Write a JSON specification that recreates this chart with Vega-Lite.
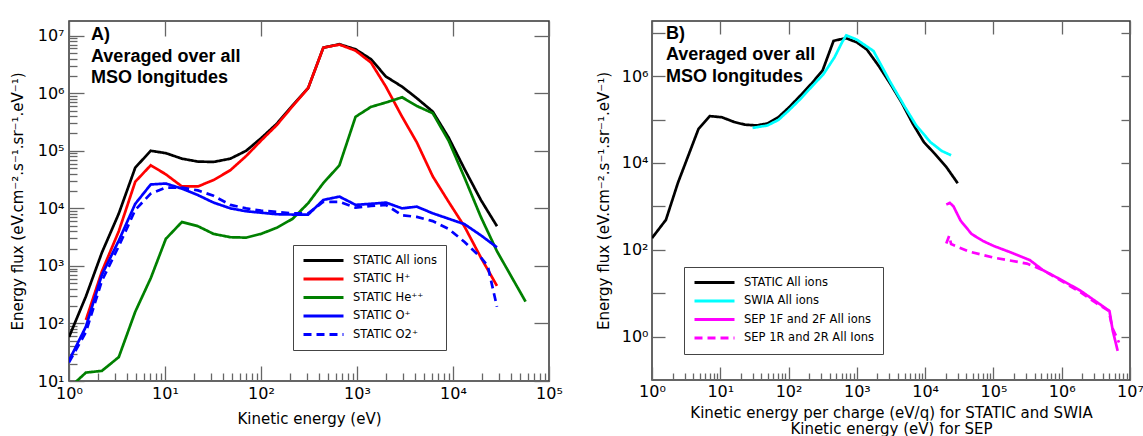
{
  "$schema": "https://vega.github.io/schema/vega-lite/v6.json",
  "padding": {"left": 9, "top": 11, "right": 0, "bottom": 0},
  "spacing": 31,
  "config": {
    "view": {"stroke": "#333333", "strokeWidth": 1.5},
    "axis": {"labelFont": "DejaVu Sans", "labelFontSize": 16, "labelColor": "#000000", "titleFont": "DejaVu Sans", "titleFontSize": 15, "titleFontWeight": "normal", "titleColor": "#000000", "grid": false, "domain": false, "ticks": true, "tickColor": "#666666", "tickWidth": 1.3, "labelFlush": false, "labelOverlap": false},
    "legend": {"orient": "none", "strokeColor": "#444444", "padding": 9, "symbolType": "stroke", "symbolSize": 1600, "symbolStrokeWidth": 3, "clipHeight": 13, "labelFont": "DejaVu Sans", "labelFontSize": 11.5, "labelColor": "#000000", "rowPadding": 5.5, "labelOffset": 8, "labelLimit": 300, "title": null}
  },
  "resolve": {"scale": {"color": "independent", "strokeDash": "independent"}, "legend": {"color": "independent", "strokeDash": "independent"}},
  "hconcat": [
    {
      "width": 480,
      "height": 360,
      "title": {"text": " ", "fontSize": 8, "offset": 0, "anchor": "start"},
      "data": {"values": [
        {"s": "STATIC All ions", "E": 1, "F": 58}, {"s": "STATIC All ions", "E": 1.5, "F": 295}, {"s": "STATIC All ions", "E": 2.2, "F": 1700}, {"s": "STATIC All ions", "E": 3.3, "F": 8100}, {"s": "STATIC All ions", "E": 4.9, "F": 51000}, {"s": "STATIC All ions", "E": 7.1, "F": 100000}, {"s": "STATIC All ions", "E": 10.2, "F": 91000}, {"s": "STATIC All ions", "E": 15, "F": 73000}, {"s": "STATIC All ions", "E": 22, "F": 65000}, {"s": "STATIC All ions", "E": 32, "F": 64000}, {"s": "STATIC All ions", "E": 48, "F": 73000}, {"s": "STATIC All ions", "E": 70, "F": 100000}, {"s": "STATIC All ions", "E": 100, "F": 165000}, {"s": "STATIC All ions", "E": 146, "F": 295000}, {"s": "STATIC All ions", "E": 214, "F": 620000}, {"s": "STATIC All ions", "E": 310, "F": 1230000}, {"s": "STATIC All ions", "E": 446, "F": 6200000}, {"s": "STATIC All ions", "E": 656, "F": 7100000}, {"s": "STATIC All ions", "E": 966, "F": 5800000}, {"s": "STATIC All ions", "E": 1400, "F": 3900000}, {"s": "STATIC All ions", "E": 2000, "F": 1950000}, {"s": "STATIC All ions", "E": 2950, "F": 1300000}, {"s": "STATIC All ions", "E": 4200, "F": 820000}, {"s": "STATIC All ions", "E": 6150, "F": 480000}, {"s": "STATIC All ions", "E": 9000, "F": 170000}, {"s": "STATIC All ions", "E": 13200, "F": 48000}, {"s": "STATIC All ions", "E": 19500, "F": 14000}, {"s": "STATIC All ions", "E": 28700, "F": 4900},
        {"s": "STATIC H⁺", "E": 1.5, "F": 115}, {"s": "STATIC H⁺", "E": 2.2, "F": 800}, {"s": "STATIC H⁺", "E": 3.3, "F": 4000}, {"s": "STATIC H⁺", "E": 4.9, "F": 29000}, {"s": "STATIC H⁺", "E": 7.1, "F": 56000}, {"s": "STATIC H⁺", "E": 10.2, "F": 39000}, {"s": "STATIC H⁺", "E": 15, "F": 24000}, {"s": "STATIC H⁺", "E": 22, "F": 24000}, {"s": "STATIC H⁺", "E": 32, "F": 31000}, {"s": "STATIC H⁺", "E": 48, "F": 46000}, {"s": "STATIC H⁺", "E": 70, "F": 81000}, {"s": "STATIC H⁺", "E": 100, "F": 150000}, {"s": "STATIC H⁺", "E": 146, "F": 280000}, {"s": "STATIC H⁺", "E": 214, "F": 600000}, {"s": "STATIC H⁺", "E": 310, "F": 1230000}, {"s": "STATIC H⁺", "E": 446, "F": 6200000}, {"s": "STATIC H⁺", "E": 656, "F": 7000000}, {"s": "STATIC H⁺", "E": 966, "F": 5500000}, {"s": "STATIC H⁺", "E": 1400, "F": 3400000}, {"s": "STATIC H⁺", "E": 2000, "F": 1300000}, {"s": "STATIC H⁺", "E": 2950, "F": 390000}, {"s": "STATIC H⁺", "E": 4200, "F": 140000}, {"s": "STATIC H⁺", "E": 6150, "F": 36000}, {"s": "STATIC H⁺", "E": 9000, "F": 13000}, {"s": "STATIC H⁺", "E": 13200, "F": 4800}, {"s": "STATIC H⁺", "E": 19500, "F": 1400}, {"s": "STATIC H⁺", "E": 28700, "F": 450},
        {"s": "STATIC He⁺⁺", "E": 1, "F": 7.5}, {"s": "STATIC He⁺⁺", "E": 1.5, "F": 14}, {"s": "STATIC He⁺⁺", "E": 2.2, "F": 15}, {"s": "STATIC He⁺⁺", "E": 3.3, "F": 26}, {"s": "STATIC He⁺⁺", "E": 4.9, "F": 160}, {"s": "STATIC He⁺⁺", "E": 7.1, "F": 610}, {"s": "STATIC He⁺⁺", "E": 10.2, "F": 2950}, {"s": "STATIC He⁺⁺", "E": 15, "F": 5800}, {"s": "STATIC He⁺⁺", "E": 22, "F": 4900}, {"s": "STATIC He⁺⁺", "E": 32, "F": 3600}, {"s": "STATIC He⁺⁺", "E": 48, "F": 3150}, {"s": "STATIC He⁺⁺", "E": 70, "F": 3100}, {"s": "STATIC He⁺⁺", "E": 100, "F": 3600}, {"s": "STATIC He⁺⁺", "E": 146, "F": 4600}, {"s": "STATIC He⁺⁺", "E": 214, "F": 6600}, {"s": "STATIC He⁺⁺", "E": 310, "F": 12300}, {"s": "STATIC He⁺⁺", "E": 446, "F": 27500}, {"s": "STATIC He⁺⁺", "E": 656, "F": 56000}, {"s": "STATIC He⁺⁺", "E": 966, "F": 390000}, {"s": "STATIC He⁺⁺", "E": 1400, "F": 580000}, {"s": "STATIC He⁺⁺", "E": 2000, "F": 690000}, {"s": "STATIC He⁺⁺", "E": 2950, "F": 850000}, {"s": "STATIC He⁺⁺", "E": 4200, "F": 600000}, {"s": "STATIC He⁺⁺", "E": 6150, "F": 450000}, {"s": "STATIC He⁺⁺", "E": 9000, "F": 150000}, {"s": "STATIC He⁺⁺", "E": 13200, "F": 34000}, {"s": "STATIC He⁺⁺", "E": 19500, "F": 7100}, {"s": "STATIC He⁺⁺", "E": 28700, "F": 1800}, {"s": "STATIC He⁺⁺", "E": 57000, "F": 240},
        {"s": "STATIC O⁺", "E": 1, "F": 22.6}, {"s": "STATIC O⁺", "E": 1.5, "F": 88}, {"s": "STATIC O⁺", "E": 2.2, "F": 700}, {"s": "STATIC O⁺", "E": 3.3, "F": 2750}, {"s": "STATIC O⁺", "E": 4.9, "F": 12000}, {"s": "STATIC O⁺", "E": 7.1, "F": 26000}, {"s": "STATIC O⁺", "E": 10.2, "F": 27000}, {"s": "STATIC O⁺", "E": 15, "F": 22000}, {"s": "STATIC O⁺", "E": 22, "F": 17000}, {"s": "STATIC O⁺", "E": 32, "F": 12600}, {"s": "STATIC O⁺", "E": 48, "F": 10000}, {"s": "STATIC O⁺", "E": 70, "F": 8900}, {"s": "STATIC O⁺", "E": 100, "F": 8400}, {"s": "STATIC O⁺", "E": 146, "F": 7900}, {"s": "STATIC O⁺", "E": 214, "F": 7800}, {"s": "STATIC O⁺", "E": 310, "F": 7800}, {"s": "STATIC O⁺", "E": 446, "F": 14000}, {"s": "STATIC O⁺", "E": 656, "F": 16000}, {"s": "STATIC O⁺", "E": 966, "F": 11500}, {"s": "STATIC O⁺", "E": 1400, "F": 12000}, {"s": "STATIC O⁺", "E": 2000, "F": 12600}, {"s": "STATIC O⁺", "E": 2950, "F": 10000}, {"s": "STATIC O⁺", "E": 4200, "F": 10700}, {"s": "STATIC O⁺", "E": 6150, "F": 8200}, {"s": "STATIC O⁺", "E": 9000, "F": 6600}, {"s": "STATIC O⁺", "E": 13200, "F": 5300}, {"s": "STATIC O⁺", "E": 19500, "F": 3400}, {"s": "STATIC O⁺", "E": 28700, "F": 2100},
        {"s": "STATIC O2⁺", "E": 1, "F": 21}, {"s": "STATIC O2⁺", "E": 1.5, "F": 71}, {"s": "STATIC O2⁺", "E": 2.2, "F": 550}, {"s": "STATIC O2⁺", "E": 3.3, "F": 2200}, {"s": "STATIC O2⁺", "E": 4.9, "F": 9400}, {"s": "STATIC O2⁺", "E": 7.1, "F": 18000}, {"s": "STATIC O2⁺", "E": 10.2, "F": 23000}, {"s": "STATIC O2⁺", "E": 15, "F": 23000}, {"s": "STATIC O2⁺", "E": 22, "F": 20500}, {"s": "STATIC O2⁺", "E": 32, "F": 16500}, {"s": "STATIC O2⁺", "E": 48, "F": 11500}, {"s": "STATIC O2⁺", "E": 70, "F": 10000}, {"s": "STATIC O2⁺", "E": 100, "F": 9100}, {"s": "STATIC O2⁺", "E": 146, "F": 8700}, {"s": "STATIC O2⁺", "E": 214, "F": 8200}, {"s": "STATIC O2⁺", "E": 310, "F": 8200}, {"s": "STATIC O2⁺", "E": 446, "F": 13000}, {"s": "STATIC O2⁺", "E": 656, "F": 13000}, {"s": "STATIC O2⁺", "E": 966, "F": 10300}, {"s": "STATIC O2⁺", "E": 1400, "F": 11000}, {"s": "STATIC O2⁺", "E": 2000, "F": 11500}, {"s": "STATIC O2⁺", "E": 2950, "F": 7600}, {"s": "STATIC O2⁺", "E": 4200, "F": 7100}, {"s": "STATIC O2⁺", "E": 6150, "F": 6000}, {"s": "STATIC O2⁺", "E": 9000, "F": 4400}, {"s": "STATIC O2⁺", "E": 13200, "F": 2600}, {"s": "STATIC O2⁺", "E": 19500, "F": 1400}, {"s": "STATIC O2⁺", "E": 23000, "F": 1000}, {"s": "STATIC O2⁺", "E": 28700, "F": 195}
      ]},
      "layer": [
        {
          "mark": {"type": "line", "opacity": 0},
          "encoding": {
            "x": {"field": "E", "type": "quantitative", "scale": {"type": "log", "domain": [1, 100000], "nice": false}, "axis": {"orient": "top", "values": [1, 10, 100, 1000, 10000, 100000], "labels": false, "offset": -15, "tickSize": 15, "title": null}},
            "y": {"field": "F", "type": "quantitative", "scale": {"type": "log", "domain": [10, 18000000], "nice": false}, "axis": {"orient": "right", "values": [10, 100, 1000, 10000, 100000, 1000000, 10000000], "labels": false, "offset": -15, "tickSize": 15, "title": null}}
          }
        },
        {
          "mark": {"type": "line", "strokeWidth": 2.7, "clip": true},
          "encoding": {
            "x": {"field": "E", "type": "quantitative", "scale": {"type": "log", "domain": [1, 100000], "nice": false}, "axis": {"orient": "bottom", "values": [1,2,3,4,5,6,7,8,9,10,20,30,40,50,60,70,80,90,100,200,300,400,500,600,700,800,900,1000,2000,3000,4000,5000,6000,7000,8000,9000,10000,20000,30000,40000,50000,60000,70000,80000,90000,100000], "tickSize": {"condition": {"test": "abs(log(datum.value)/LN10 - round(log(datum.value)/LN10)) < 0.01", "value": -15}, "value": -8}, "labelPadding": 19, "labelExpr": "abs(log(datum.value)/LN10 - round(log(datum.value)/LN10)) < 0.01 ? '10' + ['⁰','¹','²','³','⁴','⁵','⁶','⁷'][round(log(datum.value)/LN10)] : ''", "title": "Kinetic energy (eV)", "titlePadding": 3}},
            "y": {"field": "F", "type": "quantitative", "scale": {"type": "log", "domain": [10, 18000000], "nice": false}, "axis": {"orient": "left", "values": [10,20,30,40,50,60,70,80,90,100,200,300,400,500,600,700,800,900,1000,2000,3000,4000,5000,6000,7000,8000,9000,10000,20000,30000,40000,50000,60000,70000,80000,90000,100000,200000,300000,400000,500000,600000,700000,800000,900000,1000000,2000000,3000000,4000000,5000000,6000000,7000000,8000000,9000000,10000000], "tickSize": {"condition": {"test": "abs(log(datum.value)/LN10 - round(log(datum.value)/LN10)) < 0.01", "value": -15}, "value": -8}, "labelPadding": 20, "labelExpr": "abs(log(datum.value)/LN10 - round(log(datum.value)/LN10)) < 0.01 ? '10' + ['⁰','¹','²','³','⁴','⁵','⁶','⁷'][round(log(datum.value)/LN10)] : ''", "title": "Energy flux (eV.cm⁻².s⁻¹.sr⁻¹.eV⁻¹)", "titlePadding": 12}},
            "color": {"field": "s", "type": "nominal", "sort": null, "scale": {"domain": ["STATIC All ions", "STATIC H⁺", "STATIC He⁺⁺", "STATIC O⁺", "STATIC O2⁺"], "range": ["#000000", "#ff0000", "#008000", "#0000ff", "#0000ff"]}, "legend": {"legendX": 224, "legendY": 224}},
            "strokeDash": {"field": "s", "type": "nominal", "sort": null, "scale": {"domain": ["STATIC All ions", "STATIC H⁺", "STATIC He⁺⁺", "STATIC O⁺", "STATIC O2⁺"], "range": [[1, 0], [1, 0], [1, 0], [1, 0], [8, 5]]}, "legend": {"legendX": 224, "legendY": 224}}
          }
        },
        {
          "data": {"values": [{}]},
          "mark": {"type": "text", "align": "left", "baseline": "alphabetic", "font": "Liberation Sans", "fontSize": 18, "fontWeight": "bold", "lineHeight": 21.5, "fill": "#000000"},
          "encoding": {
            "x": {"datum": 1.696, "type": "quantitative", "scale": {"type": "log", "domain": [1, 100000], "nice": false}, "axis": null},
            "y": {"datum": 8400000, "type": "quantitative", "scale": {"type": "log", "domain": [10, 18000000], "nice": false}, "axis": null},
            "text": {"value": ["A)", "Averaged over all", "MSO longitudes"]}
          }
        }
      ],
      "resolve": {"axis": {"x": "independent", "y": "independent"}}
    },
    {
      "width": 478,
      "height": 359,
      "data": {"values": [
        {"s": "STATIC All ions", "E": 1, "F": 186}, {"s": "STATIC All ions", "E": 1.6, "F": 490}, {"s": "STATIC All ions", "E": 2.4, "F": 3500}, {"s": "STATIC All ions", "E": 3.3, "F": 13000}, {"s": "STATIC All ions", "E": 4.8, "F": 61000}, {"s": "STATIC All ions", "E": 7, "F": 120000}, {"s": "STATIC All ions", "E": 10.5, "F": 113000}, {"s": "STATIC All ions", "E": 15.9, "F": 88000}, {"s": "STATIC All ions", "E": 23, "F": 76000}, {"s": "STATIC All ions", "E": 34, "F": 73000}, {"s": "STATIC All ions", "E": 49, "F": 81000}, {"s": "STATIC All ions", "E": 71, "F": 113000}, {"s": "STATIC All ions", "E": 100, "F": 186000}, {"s": "STATIC All ions", "E": 150, "F": 360000}, {"s": "STATIC All ions", "E": 220, "F": 690000}, {"s": "STATIC All ions", "E": 315, "F": 1350000}, {"s": "STATIC All ions", "E": 456, "F": 6500000}, {"s": "STATIC All ions", "E": 690, "F": 7500000}, {"s": "STATIC All ions", "E": 1000, "F": 6000000}, {"s": "STATIC All ions", "E": 1400, "F": 4100000}, {"s": "STATIC All ions", "E": 2100, "F": 1700000}, {"s": "STATIC All ions", "E": 3100, "F": 660000}, {"s": "STATIC All ions", "E": 4500, "F": 250000}, {"s": "STATIC All ions", "E": 6600, "F": 80000}, {"s": "STATIC All ions", "E": 9600, "F": 30000}, {"s": "STATIC All ions", "E": 14000, "F": 16000}, {"s": "STATIC All ions", "E": 20500, "F": 8000}, {"s": "STATIC All ions", "E": 30000, "F": 3400},
        {"s": "SWIA All ions", "E": 29.7, "F": 64000}, {"s": "SWIA All ions", "E": 49, "F": 73000}, {"s": "SWIA All ions", "E": 71, "F": 98000}, {"s": "SWIA All ions", "E": 100, "F": 160000}, {"s": "SWIA All ions", "E": 150, "F": 300000}, {"s": "SWIA All ions", "E": 220, "F": 580000}, {"s": "SWIA All ions", "E": 323, "F": 1100000}, {"s": "SWIA All ions", "E": 470, "F": 2700000}, {"s": "SWIA All ions", "E": 610, "F": 6100000}, {"s": "SWIA All ions", "E": 700, "F": 8700000}, {"s": "SWIA All ions", "E": 1000, "F": 6900000}, {"s": "SWIA All ions", "E": 1750, "F": 3800000}, {"s": "SWIA All ions", "E": 3100, "F": 720000}, {"s": "SWIA All ions", "E": 5100, "F": 190000}, {"s": "SWIA All ions", "E": 7400, "F": 73000}, {"s": "SWIA All ions", "E": 12000, "F": 30000}, {"s": "SWIA All ions", "E": 17400, "F": 19000}, {"s": "SWIA All ions", "E": 24000, "F": 15000},
        {"s": "SEP 1F and 2F All ions", "E": 20400, "F": 1100}, {"s": "SEP 1F and 2F All ions", "E": 23000, "F": 1200}, {"s": "SEP 1F and 2F All ions", "E": 26000, "F": 1000}, {"s": "SEP 1F and 2F All ions", "E": 33000, "F": 470}, {"s": "SEP 1F and 2F All ions", "E": 48000, "F": 230}, {"s": "SEP 1F and 2F All ions", "E": 70000, "F": 160}, {"s": "SEP 1F and 2F All ions", "E": 100000, "F": 123}, {"s": "SEP 1F and 2F All ions", "E": 190000, "F": 84}, {"s": "SEP 1F and 2F All ions", "E": 340000, "F": 58}, {"s": "SEP 1F and 2F All ions", "E": 530000, "F": 34}, {"s": "SEP 1F and 2F All ions", "E": 1000000, "F": 20}, {"s": "SEP 1F and 2F All ions", "E": 1900000, "F": 11.3}, {"s": "SEP 1F and 2F All ions", "E": 3100000, "F": 6.6}, {"s": "SEP 1F and 2F All ions", "E": 5000000, "F": 3.9}, {"s": "SEP 1F and 2F All ions", "E": 5600000, "F": 1.35}, {"s": "SEP 1F and 2F All ions", "E": 6600000, "F": 0.47},
        {"s": "SEP 1R and 2R All Ions", "E": 20400, "F": 140}, {"s": "SEP 1R and 2R All Ions", "E": 22500, "F": 210}, {"s": "SEP 1R and 2R All Ions", "E": 24000, "F": 135}, {"s": "SEP 1R and 2R All Ions", "E": 43000, "F": 92}, {"s": "SEP 1R and 2R All Ions", "E": 100000, "F": 66}, {"s": "SEP 1R and 2R All Ions", "E": 310000, "F": 48}, {"s": "SEP 1R and 2R All Ions", "E": 530000, "F": 34}, {"s": "SEP 1R and 2R All Ions", "E": 1000000, "F": 19}, {"s": "SEP 1R and 2R All Ions", "E": 1900000, "F": 10.4}, {"s": "SEP 1R and 2R All Ions", "E": 3100000, "F": 6.1}, {"s": "SEP 1R and 2R All Ions", "E": 4900000, "F": 3.9}, {"s": "SEP 1R and 2R All Ions", "E": 5500000, "F": 1.6}, {"s": "SEP 1R and 2R All Ions", "E": 6900000, "F": 0.73}
      ]},
      "layer": [
        {
          "mark": {"type": "line", "opacity": 0},
          "encoding": {
            "x": {"field": "E", "type": "quantitative", "scale": {"type": "log", "domain": [1, 10000000], "nice": false}, "axis": {"orient": "top", "values": [1, 10, 100, 1000, 10000, 100000, 1000000, 10000000], "labels": false, "offset": -13, "tickSize": 13, "title": null}},
            "y": {"field": "F", "type": "quantitative", "scale": {"type": "log", "domain": [0.1, 18600000], "nice": false}, "axis": {"orient": "right", "values": [1, 10, 100, 1000, 10000, 100000, 1000000, 10000000], "labels": false, "offset": -9, "tickSize": 9, "title": null}}
          }
        },
        {
          "mark": {"type": "line", "strokeWidth": 2.7, "clip": true},
          "encoding": {
            "x": {"field": "E", "type": "quantitative", "scale": {"type": "log", "domain": [1, 10000000], "nice": false}, "axis": {"orient": "bottom", "values": [1,2,3,4,5,6,7,8,9,10,20,30,40,50,60,70,80,90,100,200,300,400,500,600,700,800,900,1000,2000,3000,4000,5000,6000,7000,8000,9000,10000,20000,30000,40000,50000,60000,70000,80000,90000,100000,200000,300000,400000,500000,600000,700000,800000,900000,1000000,2000000,3000000,4000000,5000000,6000000,7000000,8000000,9000000,10000000], "tickSize": {"condition": {"test": "abs(log(datum.value)/LN10 - round(log(datum.value)/LN10)) < 0.01", "value": -13}, "value": -7}, "labelPadding": 16, "labelExpr": "abs(log(datum.value)/LN10 - round(log(datum.value)/LN10)) < 0.01 ? '10' + ['⁰','¹','²','³','⁴','⁵','⁶','⁷'][round(log(datum.value)/LN10)] : ''", "title": ["Kinetic energy per charge (eV/q) for STATIC and SWIA", "Kinetic energy (eV) for SEP"], "titleLineHeight": 16, "titlePadding": 0}},
            "y": {"field": "F", "type": "quantitative", "scale": {"type": "log", "domain": [0.1, 18600000], "nice": false}, "axis": {"orient": "left", "values": [1, 10, 100, 1000, 10000, 100000, 1000000, 10000000], "tickSize": -13, "labelPadding": 17, "labelExpr": "round(log(datum.value)/LN10) % 2 == 0 ? '10' + ['⁰','¹','²','³','⁴','⁵','⁶','⁷'][round(log(datum.value)/LN10)] : ''", "title": "Energy flux (eV.cm⁻².s⁻¹.sr⁻¹.eV⁻¹)", "titlePadding": 10}},
            "color": {"field": "s", "type": "nominal", "sort": null, "scale": {"domain": ["STATIC All ions", "SWIA All ions", "SEP 1F and 2F All ions", "SEP 1R and 2R All Ions"], "range": ["#000000", "#00ffff", "#ff00ff", "#ff00ff"]}, "legend": {"legendX": 32, "legendY": 246}},
            "strokeDash": {"field": "s", "type": "nominal", "sort": null, "scale": {"domain": ["STATIC All ions", "SWIA All ions", "SEP 1F and 2F All ions", "SEP 1R and 2R All Ions"], "range": [[1, 0], [1, 0], [1, 0], [8, 5]]}, "legend": {"legendX": 32, "legendY": 246}}
          }
        },
        {
          "data": {"values": [{}]},
          "mark": {"type": "text", "align": "left", "baseline": "alphabetic", "font": "Liberation Sans", "fontSize": 18, "fontWeight": "bold", "lineHeight": 21.5, "fill": "#000000"},
          "encoding": {
            "x": {"datum": 1.6, "type": "quantitative", "scale": {"type": "log", "domain": [1, 10000000], "nice": false}, "axis": null},
            "y": {"datum": 7200000, "type": "quantitative", "scale": {"type": "log", "domain": [0.1, 18600000], "nice": false}, "axis": null},
            "text": {"value": ["B)", "Averaged over all", "MSO longitudes"]}
          }
        }
      ],
      "resolve": {"axis": {"x": "independent", "y": "independent"}}
    }
  ]
}
